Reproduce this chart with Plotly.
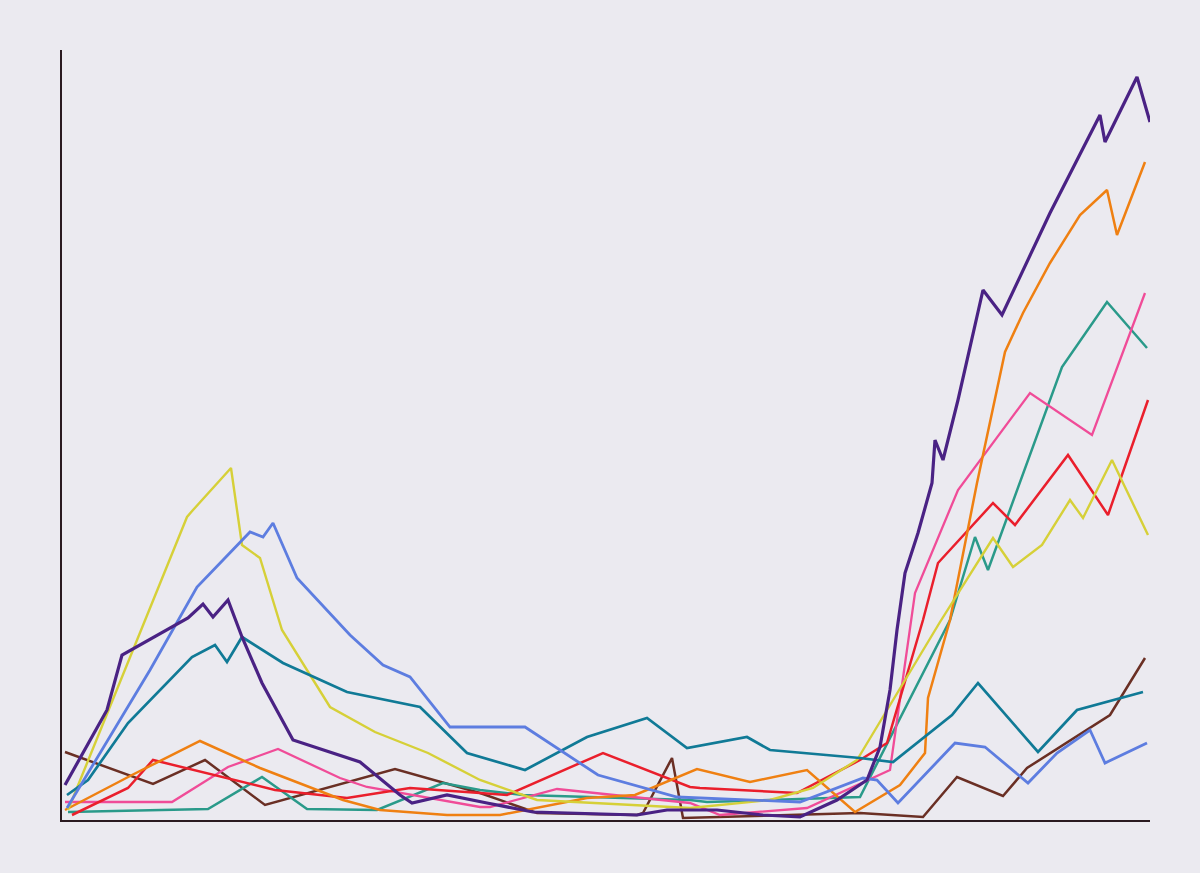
import plotly.graph_objects as go

# Values (x: horizontal units, y: vertical units)
yellow_x = [6, 95, 125, 131, 169, 180, 198, 220, 268, 313, 366, 418, 441, 475, 628, 708, 751, 795, 878, 931, 951, 980, 1008, 1021, 1050, 1086]
yellow_y = [10, 228, 303, 310, 352, 275, 262, 190, 113, 88, 67, 40, 32, 20, 12, 20, 32, 60, 198, 282, 253, 275, 320, 302, 360, 285]

blue_x = [5, 88, 135, 188, 201, 211, 235, 288, 321, 348, 388, 463, 536, 615, 738, 801, 815, 836, 893, 923, 966, 995, 1028, 1043, 1085]
blue_y = [12, 150, 233, 288, 283, 297, 242, 185, 155, 143, 93, 93, 45, 23, 18, 42, 40, 17, 77, 73, 37, 67, 90, 57, 77]

purple_x = [3, 45, 60, 126, 141, 151, 166, 180, 200, 231, 298, 338, 350, 385, 425, 471, 575, 605, 655, 701, 738, 775, 805, 818, 828, 835, 843, 856, 870, 873, 881, 896, 921, 940, 988, 1038, 1043, 1075, 1088]
purple_y = [35, 110, 165, 202, 216, 203, 220, 183, 137, 80, 58, 25, 17, 25, 17, 8, 5, 10, 10, 5, 3, 20, 40, 73, 130, 190, 247, 287, 337, 380, 360, 420, 530, 505, 607, 705, 678, 743, 698]

teal_x = [5, 26, 66, 130, 153, 165, 180, 221, 285, 358, 405, 463, 525, 585, 625, 685, 708, 798, 831, 890, 916, 976, 1015, 1081]
teal_y = [25, 40, 97, 163, 175, 158, 183, 157, 128, 113, 67, 50, 83, 102, 72, 83, 70, 62, 58, 105, 137, 68, 110, 128]

orange_x = [3, 70, 138, 198, 281, 318, 385, 438, 525, 573, 635, 688, 745, 793, 838, 863, 866, 888, 915, 943, 961, 988, 1018, 1045, 1055, 1083]
orange_y = [10, 45, 79, 52, 20, 10, 5, 5, 22, 25, 51, 38, 50, 8, 35, 67, 122, 200, 337, 468, 507, 557, 605, 630, 585, 658]

pink_x = [3, 110, 166, 216, 278, 305, 418, 428, 495, 628, 658, 745, 828, 853, 896, 968, 1030, 1083]
pink_y = [18, 18, 53, 71, 42, 33, 13, 13, 31, 17, 5, 12, 50, 227, 330, 427, 385, 527]

red_x = [10, 66, 91, 213, 285, 348, 418, 445, 541, 628, 638, 735, 798, 825, 861, 876, 931, 953, 1006, 1046, 1086]
red_y = [5, 32, 60, 30, 22, 32, 27, 25, 67, 33, 32, 27, 60, 77, 200, 257, 317, 295, 365, 305, 420]

brown_x = [3, 91, 143, 203, 333, 418, 475, 575, 581, 610, 621, 798, 861, 895, 941, 965, 1048, 1083]
brown_y = [68, 36, 60, 15, 51, 27, 7, 5, 7, 62, 2, 7, 3, 43, 24, 52, 105, 162]

green_x = [6, 146, 200, 245, 315, 381, 418, 461, 628, 645, 798, 888, 913, 926, 1000, 1045, 1085]
green_y = [8, 11, 43, 11, 10, 37, 30, 25, 20, 18, 23, 200, 283, 250, 453, 518, 472]

series = [
    ("brown", brown_x, brown_y, "#6a2f24", 2.5),
    ("green", green_x, green_y, "#2a9a8a", 2.5),
    ("pink", pink_x, pink_y, "#f04c98", 2.3),
    ("red", red_x, red_y, "#ea1f2c", 2.5),
    ("orange", orange_x, orange_y, "#ef8012", 2.5),
    ("yellow", yellow_x, yellow_y, "#d6d038", 2.4),
    ("teal", teal_x, teal_y, "#107a96", 2.7),
    ("blue", blue_x, blue_y, "#5d7de0", 2.8),
    ("purple", purple_x, purple_y, "#4a2284", 3.2),
]

BG = "#ebeaf0"

fig = go.Figure()
for name, xs, ys, color, w in series:
    fig.add_trace(go.Scatter(x=xs, y=ys, mode="lines", name=name,
                             line=dict(color=color, width=w), hoverinfo="skip"))

fig.update_layout(
    width=1200, height=873,
    margin=dict(l=62, r=50, t=50, b=53),
    paper_bgcolor=BG, plot_bgcolor=BG,
    showlegend=False,
)
fig.update_xaxes(range=[0, 1088], showgrid=False, zeroline=False, showticklabels=False,
                 ticks="", showline=True, linecolor="#2a1a20", linewidth=2)
fig.update_yaxes(range=[0, 770], showgrid=False, zeroline=False, showticklabels=False,
                 ticks="", showline=True, linecolor="#2a1a20", linewidth=2)

fig.write_html(
    "out.html",
    config={"displayModeBar": False},
    post_script="document.body.style.margin='0';document.body.style.overflow='hidden';"
                "document.body.style.background='" + BG + "';",
)
